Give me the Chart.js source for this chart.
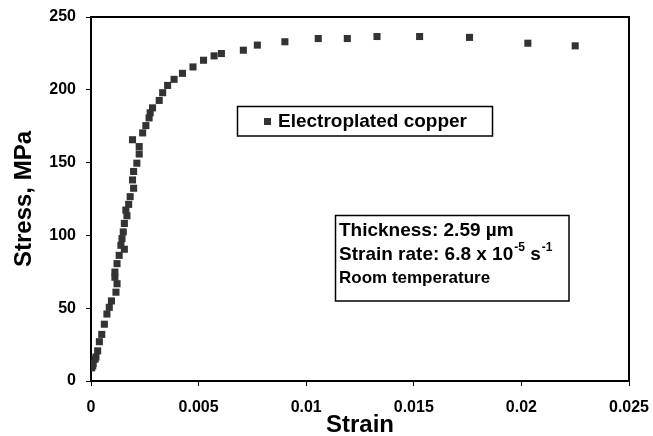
<!DOCTYPE html>
<html>
<head>
<meta charset="utf-8">
<script src="https://cdn.jsdelivr.net/npm/chart.js@4"></script>
<style>
  html, body { margin: 0; padding: 0; background: #fff; }
  canvas { display: block; }
</style>
</head>
<body>
<canvas id="c" width="653" height="436" style="width:653px;height:436px"></canvas>
<script>
// ---- Data ----
const seriesLabel = 'Electroplated copper';
const strain = [0.00003, 0.00008, 0.0001, 0.00019, 0.00023, 0.00031, 0.00039, 0.0005, 0.00062, 0.00074,
  0.00085, 0.00095, 0.00116, 0.00121, 0.00111, 0.00111, 0.00121, 0.00131, 0.00155, 0.00139,
  0.00144, 0.0015, 0.00155, 0.00167, 0.00162, 0.00175, 0.00182, 0.00198, 0.00193, 0.00198,
  0.00213, 0.00224, 0.00224, 0.00193, 0.0024, 0.00255, 0.0027, 0.00275, 0.00286, 0.00317,
  0.00333, 0.00356, 0.00386, 0.00425, 0.00474, 0.00523, 0.00572, 0.00606, 0.00708, 0.00773,
  0.00901, 0.01056, 0.01191, 0.01329, 0.01527, 0.01759, 0.0203, 0.0225];
const stress = [9, 10.4, 12, 15, 16.5, 20.7, 27, 32, 39, 46,
  50.6, 55, 61, 66.8, 71.3, 74.8, 80.6, 86.3, 90.5, 93.2,
  97.8, 102.4, 108.2, 113.5, 117.4, 121.3, 126.6, 132.4, 138.1, 143.9,
  149.6, 155.9, 161, 165.7, 170.4, 175.4, 180.7, 184.2, 187.6, 192.7,
  198, 203, 207.2, 211.3, 215.7, 220.3, 223.3, 224.9, 227.2, 230.7,
  233, 235.2, 235.2, 236.6, 236.6, 236, 232, 230.2];
const xTickLabels = ['0', '0.005', '0.01', '0.015', '0.02', '0.025'];
const yTickLabels = ['0', '50', '100', '150', '200', '250'];
const xTitle = 'Strain';
const yTitle = 'Stress, MPa';
const noteLine1 = 'Thickness: 2.59 µm';
const noteLine2 = ['Strain rate: 6.8 x 10', '-5', ' s', '-1'];
const noteLine3 = 'Room temperature';

const FONT = '"Liberation Sans", Arial, Helvetica, sans-serif';
const points = strain.map((s, i) => ({ x: s, y: stress[i] }));
const MARK = '#333333';

const framePlugin = {
  id: 'frame',
  beforeDatasetsDraw(chart) {
    const { ctx, chartArea: a } = chart;
    ctx.save();
    ctx.strokeStyle = '#000';
    ctx.lineWidth = 2;
    ctx.strokeRect(a.left, a.top, a.right - a.left, a.bottom - a.top);
    ctx.restore();
  }
};

const boxesPlugin = {
  id: 'boxes',
  afterDraw(chart) {
    const { ctx } = chart;
    ctx.save();
    // legend box
    ctx.fillStyle = '#fff';
    ctx.fillRect(237, 106, 256, 30);
    ctx.strokeStyle = '#000';
    ctx.lineWidth = 1.5;
    ctx.strokeRect(237.5, 106.5, 255, 29.5);
    ctx.fillStyle = MARK;
    ctx.fillRect(264, 118, 7, 7);
    ctx.fillStyle = '#000';
    ctx.font = 'bold 19px ' + FONT;
    ctx.textBaseline = 'middle';
    ctx.textAlign = 'left';
    ctx.fillText(chart.data.datasets[0].label, 278, 122);

    // note box
    ctx.fillStyle = '#fff';
    ctx.fillRect(335, 215, 234, 86);
    ctx.strokeStyle = '#000';
    ctx.lineWidth = 1.5;
    ctx.strokeRect(335.5, 215.5, 233.5, 85.5);
    ctx.fillStyle = '#000';
    ctx.textBaseline = 'alphabetic';
    ctx.font = 'bold 19px ' + FONT;
    ctx.fillText(noteLine1, 339, 236);
    let x = 339;
    ctx.fillText(noteLine2[0], x, 260);
    x += ctx.measureText(noteLine2[0]).width + 1;
    ctx.font = 'bold 12px ' + FONT;
    ctx.fillText(noteLine2[1], x, 251);
    x += ctx.measureText(noteLine2[1]).width;
    ctx.font = 'bold 19px ' + FONT;
    ctx.fillText(noteLine2[2], x, 260);
    x += ctx.measureText(noteLine2[2]).width + 1;
    ctx.font = 'bold 12px ' + FONT;
    ctx.fillText(noteLine2[3], x, 251);
    ctx.font = 'bold 17px ' + FONT;
    ctx.fillText(noteLine3, 339, 283);
    ctx.restore();
  }
};

new Chart(document.getElementById('c'), {
  type: 'scatter',
  data: {
    datasets: [{
      label: seriesLabel,
      data: points,
      pointStyle: 'rect',
      pointRadius: 5,
      pointHoverRadius: 5,
      backgroundColor: MARK,
      borderColor: MARK,
      borderWidth: 0,
      showLine: false
    }]
  },
  options: {
    responsive: false,
    animation: false,
    devicePixelRatio: 1,
    layout: { padding: { left: 0, top: 17, right: 24, bottom: 0 } },
    plugins: { legend: { display: false }, tooltip: { enabled: false } },
    scales: {
      x: {
        type: 'linear',
        min: 0, max: 0.025,
        afterFit(s) { s.height = 55; s.paddingLeft = 0; s.paddingRight = 0; },
        afterBuildTicks(s) { s.ticks = xTickLabels.map(v => ({ value: parseFloat(v) })); },
        ticks: {
          color: '#000', padding: 12, maxRotation: 0, autoSkip: false,
          font: { family: FONT, size: 16, weight: 'bold' },
          callback: (v, i) => xTickLabels[i]
        },
        grid: { drawOnChartArea: false, drawTicks: true, tickLength: 5, color: '#000', lineWidth: 1 },
        border: { display: false },
        title: {
          display: true, text: xTitle, color: '#000',
          font: { family: FONT, size: 24, weight: 'bold', lineHeight: 1 },
          padding: { top: 0, bottom: -1 }
        }
      },
      y: {
        type: 'linear',
        min: 0, max: 250,
        afterFit(s) { s.width = 91; s.paddingTop = 0; s.paddingBottom = 0; },
        afterBuildTicks(s) { s.ticks = yTickLabels.map(v => ({ value: parseFloat(v) })); },
        ticks: {
          color: '#000', padding: 10, autoSkip: false,
          font: { family: FONT, size: 16, weight: 'bold' },
          callback: (v, i) => yTickLabels[i]
        },
        grid: { drawOnChartArea: false, drawTicks: true, tickLength: 5, color: '#000', lineWidth: 1 },
        border: { display: false },
        title: {
          display: true, text: yTitle, color: '#000',
          font: { family: FONT, size: 24, weight: 'bold', lineHeight: 1 },
          padding: { top: 12, bottom: 0 }
        }
      }
    }
  },
  plugins: [framePlugin, boxesPlugin]
});
</script>
</body>
</html>
